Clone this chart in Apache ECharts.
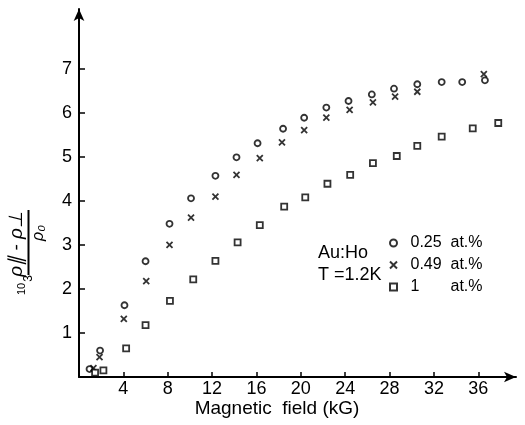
<!DOCTYPE html>
<html><head><meta charset="utf-8">
<script src="https://cdn.jsdelivr.net/npm/echarts@6/dist/echarts.min.js"></script>
<style>html,body{margin:0;padding:0;background:#fff}#c{width:525px;height:425px}</style>
</head><body><div id="c"></div>
<script>
// Data
const xTicks = [4, 8, 12, 16, 20, 24, 28, 32, 36];
const yTicks = [1, 2, 3, 4, 5, 6, 7];
const seriesNames = ['0.25 at.%', '0.49 at.%', '1 at.%'];
const ho025 = [[0.95,0.18],[1.9,0.6],[4.1,1.63],[6.0,2.63],[8.16,3.48],[10.1,4.06],[12.3,4.57],[14.2,4.99],[16.1,5.31],[18.4,5.64],[20.3,5.89],[22.3,6.12],[24.3,6.27],[26.4,6.42],[28.4,6.55],[30.5,6.65],[32.7,6.70],[34.55,6.70],[36.6,6.74]];
const ho049 = [[1.3,0.2],[1.85,0.45],[4.04,1.32],[6.06,2.18],[8.16,3.0],[10.1,3.62],[12.3,4.10],[14.2,4.59],[16.3,4.97],[18.3,5.33],[20.3,5.61],[22.3,5.89],[24.4,6.07],[26.5,6.24],[28.5,6.37],[30.5,6.48],[36.5,6.88]];
const ho100 = [[1.45,0.1],[2.2,0.15],[4.25,0.65],[6.0,1.18],[8.2,1.73],[10.3,2.22],[12.3,2.64],[14.3,3.06],[16.3,3.45],[18.5,3.87],[20.4,4.08],[22.4,4.39],[24.45,4.59],[26.5,4.86],[28.65,5.02],[30.5,5.25],[32.7,5.46],[35.5,5.65],[37.8,5.77]];
const xName = 'Magnetic  field (kG)';
const notes = ['Au:Ho', 'T =1.2K'];

const FONT = "'Liberation Sans Narrow','Liberation Sans',sans-serif";
const FONT2 = "'Liberation Sans',sans-serif";
const chart = echarts.init(document.getElementById('c'), null, {renderer: 'canvas'});
const axisCommon = {
  type: 'value',
  splitLine: {show: false},
  axisLine: {show: true, onZero: false, symbol: ['none', 'arrow'], symbolSize: [8, 12], lineStyle: {color: '#000', width: 2}},
};
const mk = {color: '#fff', borderColor: '#000', borderWidth: 1.8};
chart.setOption({
  backgroundColor: '#fff',
  animation: false,
  grid: {left: 79, right: 9, top: 9, bottom: 48},
  xAxis: Object.assign({}, axisCommon, {
    min: 0, max: 39.4,
    axisTick: {show: true, inside: true, length: 5, customValues: xTicks, lineStyle: {color: '#000', width: 1.5}},
    axisLabel: {customValues: xTicks, color: '#000', fontSize: 18, fontFamily: FONT, margin: 3}
  }),
  yAxis: Object.assign({}, axisCommon, {
    min: 0, max: 8.36,
    axisTick: {show: true, inside: true, length: 6, customValues: yTicks, lineStyle: {color: '#000', width: 1.5}},
    axisLabel: {customValues: yTicks, color: '#000', fontSize: 18, fontFamily: FONT, margin: 7}
  }),
  legend: {
    orient: 'vertical', left: 382.5, top: 230, itemWidth: 7, itemHeight: 7, itemGap: 6,
    data: seriesNames,
    formatter: function (n) { const p = n.split(' '); return '{a|' + p[0] + '}{b|' + p[1] + '}'; },
    textStyle: {color: '#000', fontFamily: FONT2, fontSize: 16, lineHeight: 16,
      rich: {a: {width: 40, padding: [0, 0, 0, 8.5], fontFamily: FONT2, fontSize: 16, color: '#000'},
             b: {fontFamily: FONT2, fontSize: 16, color: '#000'}}}
  },
  series: [
    {name: seriesNames[0], type: 'scatter', data: ho025, symbol: 'circle', symbolSize: 6, itemStyle: mk},
    {name: seriesNames[1], type: 'scatter', data: ho049, symbol: 'path://M0,0L10,10M10,0L0,10', symbolSize: 6,
     itemStyle: {color: 'none', borderColor: '#000', borderWidth: 1.8}},
    {name: seriesNames[2], type: 'scatter', data: ho100, symbol: 'rect', symbolSize: 6, itemStyle: mk}
  ],
  graphic: [
    {type: 'text', x: 277, y: 409, style: {text: xName, font: '19px ' + FONT2, fill: '#000', textAlign: 'center', textVerticalAlign: 'middle'}},
    {type: 'text', left: 318, top: 244, style: {text: notes[0], font: '18px ' + FONT2, fill: '#000'}},
    {type: 'text', left: 318, top: 266, style: {text: notes[1], font: '18px ' + FONT2, fill: '#000'}},
    {type: 'group', x: 28.5, y: 275, rotation: Math.PI / 2, children: [
      {type: 'line', shape: {x1: 0, y1: 0, x2: 65, y2: 0}, style: {stroke: '#000', lineWidth: 2}},
      {type: 'text', x: 31, y: -2, style: {text: 'ρ∥ - ρ⊥', font: 'italic 19px ' + FONT2, fill: '#000', textAlign: 'center', textVerticalAlign: 'bottom'}},
      {type: 'text', x: 42, y: 2, style: {text: 'ρ₀', font: 'italic 16px ' + FONT2, fill: '#000', textAlign: 'center', textVerticalAlign: 'top'}},
      {type: 'text', x: -14, y: -7, style: {text: '10', font: '11px ' + FONT2, fill: '#000', textAlign: 'center', textVerticalAlign: 'middle'}},
      {type: 'text', x: -3.5, y: 0.5, style: {text: '3', font: '12px ' + FONT2, fill: '#000', textAlign: 'center', textVerticalAlign: 'middle'}}
    ]}
  ]
});
</script></body></html>
